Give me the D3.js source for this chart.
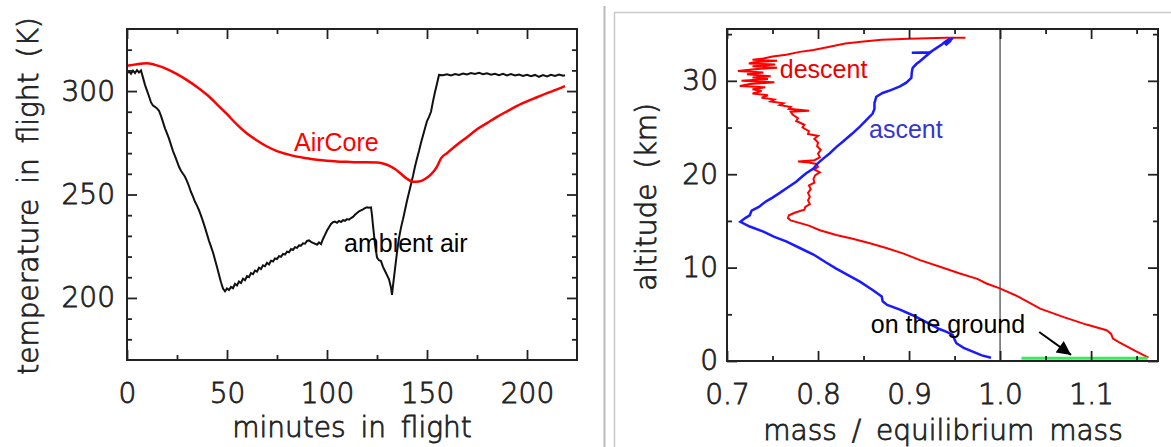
<!DOCTYPE html>
<html>
<head>
<meta charset="utf-8">
<script src="https://cdn.jsdelivr.net/npm/d3@7"></script>
<style>
  body { margin: 0; background: #fff; }
  svg { display: block; }
  .tick text, .ttl { font-family: "DejaVu Sans", sans-serif; font-weight: 200; font-size: 28px;
    fill: #222; stroke: #222; stroke-width: 0.8px; }
  .ttl { word-spacing: 6px; }
  .tick line { stroke: #222; stroke-width: 1.8; }
  .note { font-family: "Liberation Sans", Arial, sans-serif; font-size: 25px; }
</style>
</head>
<body>
<div id="chart"></div>
<script>
// ---- left panel: temperature vs minutes in flight ----
var tempXMajor = [0, 50, 100, 150, 200];
var tempXMinor = [25, 75, 125, 175];
var tempYMajor = [200, 250, 300];
var tempYMinor = [180, 190, 210, 220, 230, 240, 260, 270, 280, 290, 310, 320];

// [minute, K]
var airCore = [[0,312.2],[5,313],[10,313.4],[15,312.4],[20,310.6],[25,308.2],[30,305.3],[35,302],
  [40,298.2],[45,293.6],[50,288.8],[55,283.8],[60,279.5],[65,276.1],[70,273.2],[75,271],[80,269.5],
  [85,268.3],[90,267.5],[95,266.8],[100,266.3],[105,266],[110,265.8],[115,265.6],[120,265.6],[125,265.5],
  [128,265],[131,264],[134,262.3],[137,260],[140,257.6],[143,256.2],[146,256.3],[149,257.5],[152,259.7],
  [155,263.5],[157,267.5],[160,270],[165,274],[170,277.7],[175,281.5],[180,284.5],[185,287.5],[190,290.2],
  [195,292.8],[200,295],[205,297],[210,299],[215,300.8],[219,302.4]];

var ambient = [[0,308.5],[1,309.6],[2,308.4],[3,309.9],[4,308.7],[5,310.1],[6,309],[7,310],[8,306.5],
  [9,303],[10,300.2],[11,297.5],[12,294.5],[13,293],[14,292.4],[15,291.6],[16,290.5],[17,288],[18,285],
  [19,282],[20,279.5],[21,277],[22,274],[23,271],[24,268.5],[25,266],[26,263.4],[27,261.5],[28,260],
  [29,258.6],[30,256.5],[31,254],[32,251.2],[33,249],[34,246.5],[35,244.6],[36,242.4],[37,239.8],
  [38,237],[39,234],[40,230.8],[41,227.6],[42,224.8],[43,222],[44,218.5],[45,215],[46,211.2],[47,207.6],
  [48,204.5],[49,203.2],[50,204.6],[51,203.8],[52,205.3],[53,204.7],[54,206.8],[55,206],[56,207.9],
  [57,207.2],[58,209.3],[59,208.6],[60,210.5],[61,210],[62,212],[63,211.5],[64,213.2],[65,212.7],
  [66,214.6],[67,214],[68,215.8],[69,215.3],[70,217],[71,216.2],[72,218],[73,217.6],[74,219.1],
  [75,218.8],[76,220.2],[77,219.9],[78,221.3],[79,221],[80,222.4],[81,222.1],[82,223.6],[83,223.2],
  [84,224.5],[85,224.2],[86,225.4],[87,225.3],[88,226.4],[89,226.2],[90,227.6],[91,227.8],[92,227.1],
  [93,226.6],[94,226.2],[95,225.7],[96,226.8],[97,226],[98,228.5],[99,230.5],[100,232.6],[101,234.2],
  [102,235.8],[103,236.6],[104,236.9],[105,236.3],[106,237.2],[107,236.7],[108,237.6],[109,237.3],
  [110,238.1],[111,237.8],[112,238.6],[113,239.2],[114,240.2],[115,241.1],[116,241.8],[117,242.3],
  [118,242.8],[119,243.4],[120,243.8],[121,243.6],[122,243.8],[122.5,240],[123,235],[124,226],
  [125,219.5],[126,218.2],[127,217.8],[128,215],[129,213],[130,211],[131,209],[132,205],[132.5,201.5],
  [133,206],[134,214],[135,222],[136,229],[137,234],[138,238],[139,242.5],[140,247],[141,251],[142,255],
  [143,259],[144,263.5],[145,267.4],[146,271],[147,275],[148,278.5],[149,282],[150,285.5],[151,287.5],
  [152,290],[153,295],[154,299.5],[155,303.5],[156,307.8],[158,307.6],[160,308.1],[162,307.5],
  [164,308.2],[166,307.8],[168,308.5],[170,308],[172,308.7],[174,308.3],[176,308.8],[178,308.1],
  [180,308.6],[182,307.9],[184,308.4],[186,307.7],[188,308.3],[190,307.6],[192,308.2],[194,307.5],
  [196,308],[198,307.3],[200,307.9],[202,307.2],[204,307.8],[206,306.9],[208,307.7],[210,307.1],
  [212,307.9],[214,307.3],[216,308],[218,307.4],[219,307.6]];

// ---- right panel: altitude vs mass ratio ----
var massXMajor = [0.7, 0.8, 0.9, 1.0, 1.1];
var massXMinor = [0.75, 0.85, 0.95, 1.05, 1.15];
var altYMajor = [0, 10, 20, 30];
var altYMinor = [5, 15, 25, 35];

// [mass ratio, km]
var descent = [[0.962,34.6],[0.94,34.6],[0.90,34.5],[0.87,34.4],[0.85,34.2],[0.83,34.0],[0.81,33.6],
  [0.795,33.3],[0.78,33.1],[0.765,32.8],[0.75,32.6],[0.74,32.4],[0.728,32.25],[0.755,32.15],[0.73,32.0],
  [0.724,31.85],[0.753,31.75],[0.728,31.55],[0.755,31.4],[0.73,31.25],[0.712,31.05],[0.74,30.9],
  [0.722,30.7],[0.748,30.5],[0.728,30.35],[0.745,30.2],[0.716,30.0],[0.752,29.85],[0.725,29.65],
  [0.714,29.45],[0.742,29.3],[0.728,29.1],[0.738,28.9],[0.728,28.65],[0.745,28.45],[0.738,28.2],
  [0.752,28.0],[0.748,27.8],[0.762,27.6],[0.758,27.4],[0.77,27.2],[0.768,27.0],[0.79,26.8],[0.77,26.7],
  [0.772,26.4],[0.778,26.0],[0.776,25.7],[0.785,25.3],[0.783,25.0],[0.79,24.6],[0.789,24.3],[0.80,24.1],
  [0.796,23.8],[0.80,23.4],[0.799,23.0],[0.803,22.6],[0.80,22.2],[0.802,21.8],[0.796,21.5],[0.778,21.35],
  [0.79,21.25],[0.798,21.1],[0.80,20.8],[0.796,20.5],[0.802,20.2],[0.797,19.9],[0.795,19.5],[0.796,19.1],
  [0.79,18.8],[0.792,18.4],[0.789,18.0],[0.791,17.6],[0.789,17.2],[0.791,16.8],[0.786,16.5],[0.785,16.2],
  [0.775,15.9],[0.768,15.6],[0.767,15.3],[0.77,15.05],[0.79,14.5],[0.802,14.0],[0.82,13.5],[0.838,13.1],
  [0.857,12.6],[0.875,12.1],[0.894,11.5],[0.912,10.8],[0.934,10.1],[0.955,9.4],[0.975,8.8],[0.985,8.3],
  [0.999,7.8],[1.02,6.9],[1.044,5.6],[1.07,4.7],[1.095,3.9],[1.117,3.3],[1.122,2.9],[1.124,2.4],
  [1.131,2.0],[1.148,1.1],[1.163,0.35]];

var ascent = [[0.99,0.35],[0.98,0.6],[0.97,1.0],[0.96,1.4],[0.952,1.9],[0.95,2.3],[0.948,2.8],
  [0.942,3.1],[0.934,3.4],[0.92,4.1],[0.904,4.9],[0.89,5.5],[0.876,6.0],[0.871,6.4],[0.87,6.9],
  [0.86,7.6],[0.846,8.5],[0.833,9.2],[0.82,9.9],[0.808,10.6],[0.795,11.4],[0.78,12.1],[0.765,12.8],
  [0.752,13.3],[0.74,13.85],[0.725,14.4],[0.7147,14.9],[0.72,15.3],[0.725,15.6],[0.727,16.1],
  [0.735,16.5],[0.743,17.1],[0.75,17.5],[0.758,18.0],[0.767,18.6],[0.776,19.2],[0.782,19.7],
  [0.787,20.1],[0.795,20.6],[0.8,21.2],[0.806,21.7],[0.813,22.25],[0.82,22.9],[0.8275,23.5],
  [0.837,24.3],[0.846,25.1],[0.853,25.8],[0.86,26.5],[0.862,27.0],[0.862,27.6],[0.864,28.3],
  [0.871,28.7],[0.88,29.0],[0.89,29.4],[0.897,29.8],[0.9025,30.3],[0.903,30.9],[0.904,31.4],
  [0.908,31.8],[0.912,32.1],[0.918,32.6],[0.923,33.0],[0.903,33.0],[0.923,33.05],[0.93,33.5],
  [0.936,33.9],[0.94,34.2],[0.945,34.5],[0.937,34.0],[0.946,34.3],[0.94,33.8],[0.948,34.6]];

var ground = [[1.0235,0.3],[1.162,0.3]];

var width = 1171, height = 447;

var svg = d3.select("#chart").append("svg")
  .attr("width", width)
  .attr("height", height);

svg.append("defs").append("marker")
  .attr("id", "head")
  .attr("markerUnits", "userSpaceOnUse")
  .attr("viewBox", "0 0 10 10")
  .attr("refX", 10).attr("refY", 5)
  .attr("markerWidth", 16).attr("markerHeight", 14)
  .attr("orient", "auto")
  .append("path").attr("d", "M0,0L10,5L0,10Z").attr("fill", "#000");

// draws a closed box with inward ticks on all four sides
function frame(g, x, y, xMaj, xMin, yMaj, yMin, xFmt, yFmt, yPad) {
  var xr = x.range(), yr = y.range();
  var axes = [
    [d3.axisBottom(x).tickValues(xMaj).tickSize(-10).tickPadding(23).tickFormat(xFmt), 0, yr[0]],
    [d3.axisBottom(x).tickValues(xMin).tickSize(-5).tickFormat(""), 0, yr[0]],
    [d3.axisTop(x).tickValues(xMaj).tickSize(-10).tickFormat(""), 0, yr[1]],
    [d3.axisTop(x).tickValues(xMin).tickSize(-5).tickFormat(""), 0, yr[1]],
    [d3.axisLeft(y).tickValues(yMaj).tickSize(-10).tickPadding(yPad).tickFormat(yFmt), xr[0], 0],
    [d3.axisLeft(y).tickValues(yMin).tickSize(-5).tickFormat(""), xr[0], 0],
    [d3.axisRight(y).tickValues(yMaj).tickSize(-10).tickFormat(""), xr[1], 0],
    [d3.axisRight(y).tickValues(yMin).tickSize(-5).tickFormat(""), xr[1], 0]
  ];
  axes.forEach(function(a) {
    g.append("g").attr("transform", "translate(" + a[1] + "," + a[2] + ")").call(a[0])
      .call(function(s) { s.select(".domain").remove(); });
  });
  g.append("rect")
    .attr("x", xr[0]).attr("y", yr[1])
    .attr("width", xr[1] - xr[0]).attr("height", yr[0] - yr[1])
    .attr("fill", "none").attr("stroke", "#222").attr("stroke-width", 2);
}

// left panel
var xT = d3.scaleLinear().domain([0, 225]).range([127, 577]);
var yT = d3.scaleLinear().domain([170, 330]).range([360, 29]);
var left = svg.append("g");

var lineT = d3.line().x(function(d){ return xT(d[0]); }).y(function(d){ return yT(d[1]); });

left.append("path").datum(ambient).attr("d", lineT)
  .attr("fill", "none").attr("stroke", "#111").attr("stroke-width", 2);
left.append("path").datum(airCore).attr("d", lineT.curve(d3.curveMonotoneX))
  .attr("fill", "none").attr("stroke", "#f00").attr("stroke-width", 2.5);

frame(left, xT, yT, tempXMajor, tempXMinor, tempYMajor, tempYMinor, d3.format("d"), d3.format("d"), 12);

left.append("text").attr("class", "note").attr("fill", "#f00")
  .attr("x", xT(83.5)).attr("y", yT(271)).text("AirCore");
left.append("text").attr("class", "note").attr("fill", "#000")
  .attr("x", xT(108.5)).attr("y", yT(222.4)).text("ambient air");

left.append("text").attr("class", "ttl").attr("text-anchor", "middle")
  .attr("x", 352).attr("y", 437).text("minutes in flight");
left.append("text").attr("class", "ttl").attr("text-anchor", "middle")
  .attr("transform", "translate(38,196) rotate(-90)").text("temperature in flight (K)");

// panel separator and frame of the right picture
svg.append("line").attr("x1", 604.5).attr("x2", 604.5).attr("y1", 6).attr("y2", height)
  .attr("stroke", "#bbb").attr("stroke-width", 2);
svg.append("rect").attr("x", 614.5).attr("y", 12.5).attr("width", 700).attr("height", 600)
  .attr("fill", "none").attr("stroke", "#c8c8c8").attr("stroke-width", 1.5);

// right panel
var xM = d3.scaleLinear().domain([0.7, 1.1735]).range([727, 1158]);
var yA = d3.scaleLinear().domain([0, 35.55]).range([361, 29]);
var right = svg.append("g");

var lineM = d3.line().x(function(d){ return xM(d[0]); }).y(function(d){ return yA(d[1]); });

right.append("line")
  .attr("x1", xM(1.0)).attr("x2", xM(1.0)).attr("y1", yA.range()[0]).attr("y2", yA.range()[1])
  .attr("stroke", "#666").attr("stroke-width", 1.5);

right.append("path").datum(descent).attr("d", lineM)
  .attr("fill", "none").attr("stroke", "#f00").attr("stroke-width", 2);
right.append("path").datum(ascent).attr("d", lineM)
  .attr("fill", "none").attr("stroke", "#1a1aff").attr("stroke-width", 2.5);
right.append("path").datum(ground).attr("d", lineM)
  .attr("fill", "none").attr("stroke", "#33ee55").attr("stroke-width", 3);

frame(right, xM, yA, massXMajor, massXMinor, altYMajor, altYMinor, d3.format(".1f"), d3.format("d"), 9);

right.append("text").attr("class", "note").attr("fill", "#e00")
  .attr("x", xM(0.758)).attr("y", yA(30.27)).text("descent");
right.append("text").attr("class", "note").attr("fill", "#3535d0")
  .attr("x", xM(0.856)).attr("y", yA(23.85)).text("ascent");
right.append("text").attr("class", "note").attr("fill", "#000")
  .attr("x", xM(0.858)).attr("y", yA(2.95)).text("on the ground");

right.append("line")
  .attr("x1", xM(1.043)).attr("y1", yA(3.1))
  .attr("x2", xM(1.078)).attr("y2", yA(0.65))
  .attr("stroke", "#000").attr("stroke-width", 2)
  .attr("marker-end", "url(#head)");

right.append("text").attr("class", "ttl").attr("text-anchor", "middle")
  .attr("x", 943).attr("y", 440).text("mass / equilibrium mass");
right.append("text").attr("class", "ttl").attr("text-anchor", "middle")
  .attr("transform", "translate(656,197) rotate(-90)").text("altitude (km)");
</script>
</body>
</html>
